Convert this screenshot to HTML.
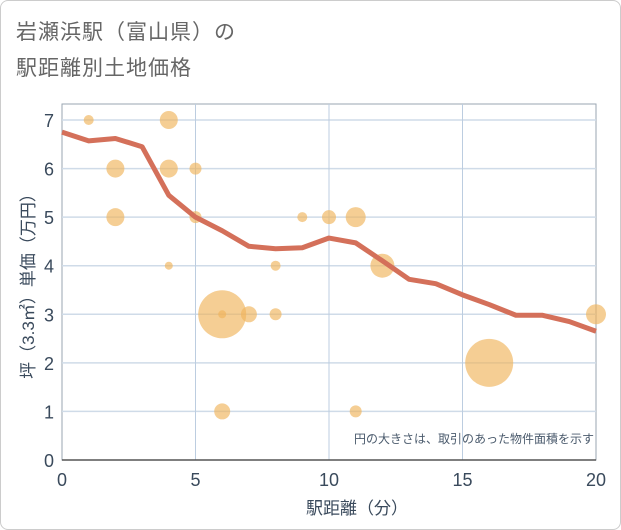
<!DOCTYPE html>
<html><head><meta charset="utf-8"><style>
body{margin:0;background:#fff;font-family:"Liberation Sans","Noto Sans CJK JP",sans-serif}
#frame{position:absolute;left:0;top:0;width:619px;height:528px;border:1px solid #ccc;border-radius:8px}
.t{position:absolute;left:16px;color:#666;font-size:21px;letter-spacing:1px}
</style></head><body>
<div id="frame"></div>
<div class="t" style="top:16px">岩瀬浜駅（富山県）の</div>
<div class="t" style="top:52px">駅距離別土地価格</div>
<svg id="c" width="621" height="530" style="position:absolute;left:0;top:0"></svg>
<script>
const xTicks=[0,5,10,15,20];
const yTicks=[0,1,2,3,4,5,6,7];
const lineX=[0,1,2,3,4,5,6,7,8,9,10,11,12,13,14,15,16,17,18,19,20];
const lineY=[6.75,6.57,6.62,6.45,5.45,5.0,4.72,4.4,4.35,4.37,4.57,4.47,4.1,3.72,3.63,3.4,3.2,2.98,2.98,2.85,2.65];
const bubX=[1,4,2,4,5,2,5,9,10,11,4,8,12,6,6,7,8,20,16,6,11];
const bubY=[7,7,6,6,6,5,5,5,5,5,4,4,4,3,3,3,3,3,2,1,1];
const bubArea=[25,81,81,81,36,81,36,25,49,100,16,25,144,576,16,64,36,100,576,64,36];
const L=62,R=596,T=104,B=460;
const sx=v=>L+(R-L)*v/20, sy=v=>B-(B-120)*v/7;
const svg=document.getElementById('c');const NS='http://www.w3.org/2000/svg';
function mk(t,a){const e=document.createElementNS(NS,t);for(const k in a)e.setAttribute(k,a[k]);svg.appendChild(e);return e;}
let e=mk('rect',{x:L,y:T,width:R-L,height:B-T,fill:'none',stroke:'#9aa6b2'});


yTicks.forEach(v=>{
 if(v>0){const g=mk('line',{x1:L,x2:R,y1:sy(v),y2:sy(v),stroke:'#cfdbe8','stroke-width':1.5});
 
 }
 const t=mk('text',{x:54,y:sy(v)+7,'text-anchor':'end','font-size':18,fill:'#3a4a5c'});t.textContent=v;
 
 
});
xTicks.forEach(v=>{
 if(v>0&&v<20){const g=mk('line',{x1:sx(v),x2:sx(v),y1:T,y2:B,stroke:'#bccde0','stroke-width':1});
 
 }
 const t=mk('text',{x:sx(v),y:486,'text-anchor':'middle','font-size':18,fill:'#3a4a5c'});t.textContent=v;
 
 
});
mk('line',{x1:L,x2:R,y1:B,y2:B,stroke:'#555','stroke-width':1.5});
bubX.forEach((x,i)=>{const c=mk('circle',{cx:sx(x),cy:sy(bubY[i]),r:Math.sqrt(bubArea[i]),fill:'rgba(240,180,90,0.65)'});
 
 });
const p=mk('polyline',{points:lineX.map((x,i)=>sx(x)+','+sy(lineY[i])).join(' '),fill:'none',stroke:'#d4705a','stroke-width':5,'stroke-linejoin':'round'});


let n=mk('text',{x:594,y:443,'text-anchor':'end','font-size':12,fill:'#4a5a6c'});n.textContent='円の大きさは、取引のあった物件面積を示す';


let xt=mk('text',{x:357,y:514,'text-anchor':'middle','font-size':17,fill:'#3a4a5c'});xt.textContent='駅距離（分）';


let yt=mk('text',{x:0,y:0,'text-anchor':'middle','font-size':17,fill:'#3a4a5c',transform:'translate(34,282) rotate(-90)'});yt.textContent='坪（3.3㎡）単価（万円）';


</script>
</body></html>
